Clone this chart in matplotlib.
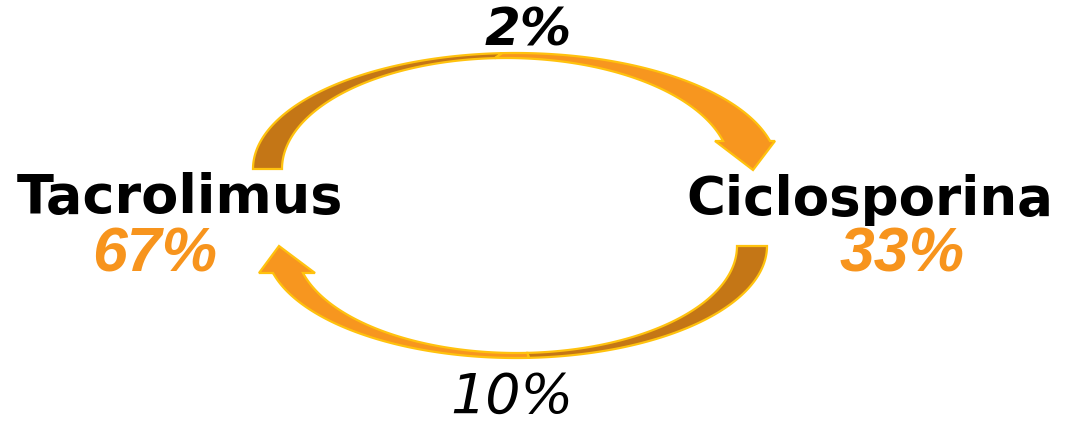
import numpy as np
import matplotlib
matplotlib.use("Agg")
import matplotlib.pyplot as plt
from matplotlib.patches import Polygon

# ---- data ----
drugs = ["Tacrolimus", "Ciclosporina"]
shares = ["67%", "33%"]
switch_top = "2%"      # Tacrolimus -> Ciclosporina
switch_bottom = "10%"  # Ciclosporina -> Tacrolimus

DARK = "#C47616"
LIGHT = "#F7961F"
EDGE = "#FFC20E"
TXT_OR = "#F7941D"

W, H = 1068, 426
fig = plt.figure(figsize=(W / 100, H / 100), dpi=100)
ax = fig.add_axes([0, 0, 1, 1])
ax.set_xlim(0, W)
ax.set_ylim(H, 0)
ax.axis("off")


def arc(cx, cy, a, b, t0, t1, sign, n=200):
    t = np.linspace(t0, t1, n)
    return np.column_stack([cx + a * np.cos(t), cy + sign * b * np.sin(t)])


def curved_arrow(outer, inner, cy, sign, t_base, t_split, head):
    """outer/inner: (cx, a, b, t_end). sign=-1 for upward arcs in pixel coords."""
    cxo, ao, bo, teo = outer
    cxi, ai, bi, tei = inner
    # dark (back) part from base to split
    o1 = arc(cxo, cy, ao, bo, t_base, t_split, sign)
    i1 = arc(cxi, cy, ai, bi, t_split, t_base, sign)
    ax.add_patch(Polygon(np.vstack([o1, i1]), closed=True, fc=DARK, ec=EDGE,
                         lw=1.6, joinstyle="miter", zorder=2))
    # light (front) part with head
    o2 = arc(cxo, cy, ao, bo, t_split, teo, sign)
    i2 = arc(cxi, cy, ai, bi, tei, t_split, sign)
    pts = np.vstack([o2, np.array(head), i2])
    ax.add_patch(Polygon(pts, closed=True, fc=LIGHT, ec=EDGE,
                         lw=1.6, joinstyle="miter", zorder=3))


# top arrow (Tacrolimus -> Ciclosporina)
cy_t = 169
bo, bi = 116, 111
teo = np.arcsin(28 / bo)
tei = np.arcsin(28 / bi)
ao = (770 - 253) / (1 + np.cos(teo)); cxo = 253 + ao
ai = (723 - 282) / (1 + np.cos(tei)); cxi = 282 + ai
curved_arrow((cxo, ao, bo, teo), (cxi, ai, bi, tei), cy_t, -1,
             np.pi, np.pi / 2 + 0.05,
             [(775, 141), (753, 170), (715, 141)])

# bottom arrow (Ciclosporina -> Tacrolimus)
cy_b = 246
bo2, bi2 = 112, 107
teo2 = np.pi - np.arcsin(27 / bo2)
tei2 = np.pi - np.arcsin(27 / bi2)
ao2 = (767 - 273) / (1 - np.cos(teo2)); cxo2 = 767 - ao2
ai2 = (737 - 303) / (1 - np.cos(tei2)); cxi2 = 737 - ai2
curved_arrow((cxo2, ao2, bo2, teo2), (cxi2, ai2, bi2, tei2), cy_b, 1,
             0.0, np.pi / 2 - 0.05,
             [(259, 273), (279, 246), (315, 273)])

# labels
name_font = dict(family="DejaVu Sans", weight="bold", color="black",
                 ha="center", va="baseline")
ax.text(180, 213, drugs[0], fontsize=39, **name_font)
ax.text(870, 215, drugs[1], fontsize=38.2, **name_font)

pct_font = dict(family="Liberation Sans", weight="bold", style="italic",
                fontsize=45, color=TXT_OR, ha="center", va="baseline")
ax.text(155, 272, shares[0], **pct_font)
ax.text(902, 272, shares[1], **pct_font)

ax.text(528, 45, switch_top, family="DejaVu Sans", weight="bold", style="italic",
        fontsize=37, color="black", ha="center", va="baseline")
ax.text(512, 413, switch_bottom, family="DejaVu Sans", style="italic",
        fontsize=40, color="black", ha="center", va="baseline")

fig.savefig("out.png", dpi=100, facecolor="white")
